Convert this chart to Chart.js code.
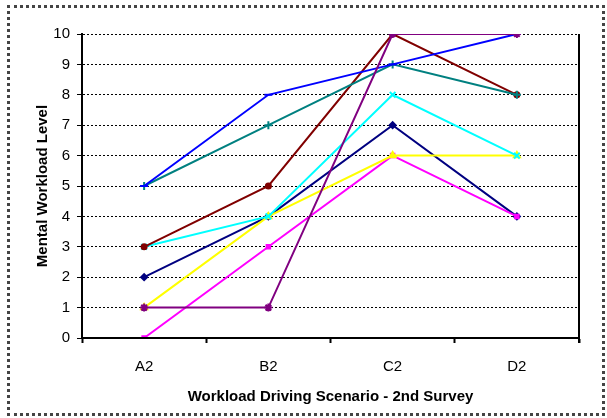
<!DOCTYPE html>
<html>
<head>
<meta charset="utf-8">
<script src="https://cdn.jsdelivr.net/npm/chart.js@4.4.1/dist/chart.umd.min.js"></script>
<style>
  html, body { margin: 0; padding: 0; background: #fff; }
  #wrap { position: relative; width: 607px; height: 418px; }
  #frame { position: absolute; left: 7px; top: 5px; width: 592px; height: 405px; border: 3px dotted #444; pointer-events: none; }
</style>
</head>
<body>
<div id="wrap">
  <canvas id="c" width="607" height="418"></canvas>
  <div id="frame"></div>
</div>
<script>
const categories = ['A2', 'B2', 'C2', 'D2'];
const yTicks = [0, 1, 2, 3, 4, 5, 6, 7, 8, 9, 10];
const seriesNavy    = [2, 4, 7, 4];
const seriesMagenta = [0, 3, 6, 4];
const seriesYellow  = [1, 4, 6, 6];
const seriesCyan    = [3, 4, 8, 6];
const seriesPurple  = [1, 1, 10, 10];
const seriesMaroon  = [3, 5, 10, 8];
const seriesTeal    = [5, 7, 9, 8];
const seriesBlue    = [5, 8, 9, 10];

function ds(data, color, style, radius, order) {
  return {
    data: data, borderColor: color, backgroundColor: color,
    borderWidth: 2, pointStyle: style, pointRadius: radius,
    pointBorderWidth: 2, pointHoverRadius: radius, tension: 0, order: order
  };
}

const frameBorder = {
  id: 'frameBorder',
  afterDraw(chart) {
    const a = chart.chartArea, ctx = chart.ctx;
    ctx.save();
    ctx.setLineDash([]);
    ctx.strokeStyle = '#000';
    ctx.lineWidth = 2;
    ctx.beginPath();
    ctx.moveTo(a.left, a.top);
    ctx.lineTo(a.left, a.bottom);
    ctx.lineTo(a.right, a.bottom);
    ctx.moveTo(a.right, a.top);
    ctx.lineTo(a.right, a.bottom + 5);
    ctx.stroke();
    ctx.restore();
  }
};

new Chart(document.getElementById('c'), {
  type: 'line',
  data: {
    labels: categories,
    datasets: [
      ds(seriesNavy, '#000080', 'rectRot', 3, 7),
      ds(seriesMagenta, '#FF00FF', 'rect', 2.5, 6),
      ds(seriesYellow, '#FFFF00', 'triangle', 3.5, 5),
      ds(seriesCyan, '#00FFFF', 'crossRot', 4, 4),
      ds(seriesMaroon, '#800000', 'circle', 2.5, 3),
      ds(seriesTeal, '#008080', 'cross', 4, 2),
      ds(seriesBlue, '#0000FF', 'line', 4, 1),
      ds(seriesPurple, '#800080', 'star', 4, 0)
    ]
  },
  options: {
    responsive: false,
    animation: false,
    layout: { padding: { left: 34, right: 28, top: 34, bottom: 0 } },
    plugins: { legend: { display: false }, tooltip: { enabled: false } },
    scales: {
      x: {
        offset: true,
        grid: { offset: true, drawOnChartArea: false, drawTicks: true, tickLength: 5, tickColor: '#000', tickWidth: 2, tickBorderDash: [] },
        border: { display: true, color: '#000', width: 2 },
        ticks: { color: '#000', font: { family: 'Arial, "Liberation Sans"', size: 15 }, padding: 15, maxRotation: 0 },
        title: { display: true, text: 'Workload Driving Scenario - 2nd Survey', color: '#000', font: { family: 'Arial, "Liberation Sans"', size: 15, weight: 'bold' }, padding: { top: 0, bottom: 12 } },
        afterFit(scale) { scale.height = 80; }
      },
      y: {
        min: 0, max: 10,
        afterBuildTicks(scale) { scale.ticks = yTicks.map(v => ({ value: v })); },
        grid: { color: '#000', lineWidth: 1, drawTicks: true, tickLength: 5, tickColor: '#000', tickWidth: 1, tickBorderDash: [] },
        border: { display: true, color: '#000', width: 2, dash: [2, 2] },
        ticks: { color: '#000', font: { family: 'Arial, "Liberation Sans"', size: 15 }, padding: 7 },
        title: { display: true, text: 'Mental Workload Level', color: '#000', font: { family: 'Arial, "Liberation Sans"', size: 15, weight: 'bold' }, padding: { top: 0, bottom: 0 } },
        afterFit(scale) { scale.width = 48; }
      }
    }
  },
  plugins: [frameBorder]
});
</script>
</body>
</html>
